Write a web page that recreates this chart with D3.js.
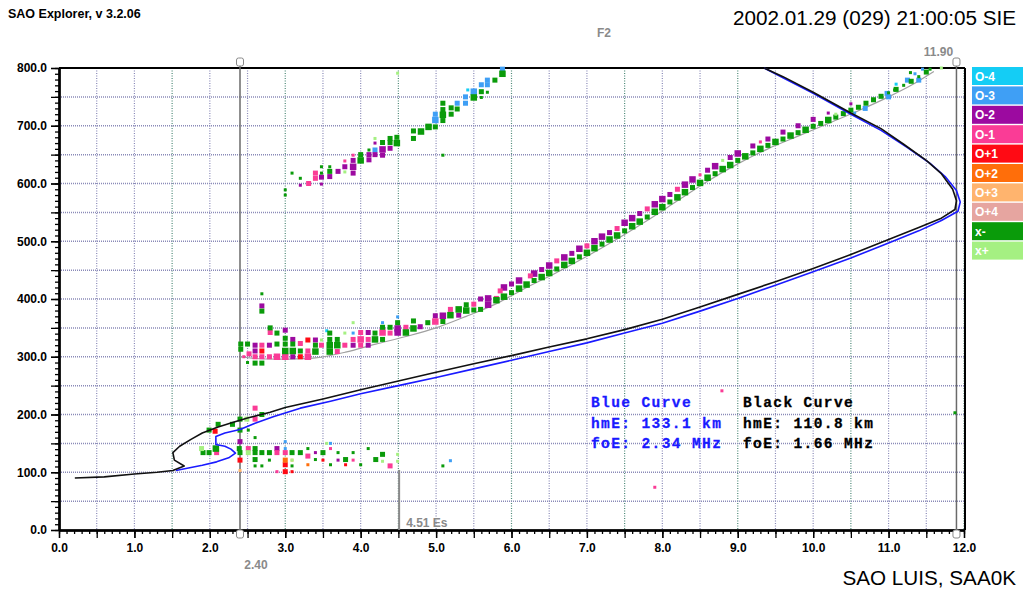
<!DOCTYPE html>
<html><head><meta charset="utf-8">
<script src="https://cdn.jsdelivr.net/npm/d3@7"></script>
<style>
html,body{margin:0;padding:0;background:#fff;}
svg{display:block;font-family:"Liberation Sans",Arial,sans-serif;}
</style></head><body>
<svg id="chart" width="1024" height="590"></svg>
<script>
// ---- axis ticks ----
const freqTicks = [0, 1, 2, 3, 4, 5, 6, 7, 8, 9, 10, 11, 12];
const heightTicks = [0, 100, 200, 300, 400, 500, 600, 700, 800];

// ---- scaled E-layer parameters ----
const blueFoE = 2.34, blueHmE = 133.1;
const blackFoE = 1.66, blackHmE = 110.8;
const foF2 = 11.90;
const fminFreq = 2.40;
const esFreq = 4.51, esTopKm = 104;

// ---- legend (Doppler / polarization classes) ----
const modeNames = ["O-4", "O-3", "O-2", "O-1", "O+1", "O+2", "O+3", "O+4", "x-", "x+"];
const modeColors = ["#14cdf5", "#3f9ff5", "#9c0aa0", "#fa3c96", "#ff0a14", "#ff6e0a", "#ffb46e", "#e6a5a0", "#0a9b0a", "#a5f082"];

// ---- echoes: [frequency MHz, virtual height km, amplitude class] ----
const echoO4 = [[5.42,762,1],[11.1,772,1],[3.55,345,1]];
const echoO3 = [
  [3.90,341,1],[4.29,359,1],[4.49,369,1],
  [4.19,658,2],[4.99,710,3],[4.99,720,2],[5.28,739,2],[5.39,750,2],[5.39,739,2],[5.50,759,3],
  [5.60,771,2],[5.68,779,2],[5.68,771,2],[5.88,798,2],
  [10.55,722,1],[10.69,730,2],[10.8,745,1],[10.98,756,2],[11.0,750,2],[11.25,779,2],[11.35,790,1],[11.4,779,2],[11.45,798,1],
  [3.0,153,1],[3.0,141,1],[5.19,120,1],[3.6,150,1]
];
const echoO2 = [
  [2.60,320,2],[2.60,310,2],[2.79,320,2],[3.0,346,2],[3.10,330,2],[3.10,300,2],[3.40,329,2],[3.90,320,2],
  [4.10,342,2],[4.10,320,2],[4.49,349,3],[4.49,342,3],[4.79,352,2],[4.99,371,2],[5.09,371,3],[5.30,372,2],
  [5.59,400,2],[5.69,401,3],[5.69,390,3],[2.69,388,2],
  [5.9,420,3],[6.0,426,2],[6.1,432,3],[6.3,444,3],[6.4,451,2],[6.5,458,3],[6.7,472,3],[6.8,479,2],[6.9,487,3],
  [7.1,500,3],[7.2,508,3],[7.3,515,2],[7.5,532,3],[7.6,540,3],[7.7,548,2],[7.9,564,3],[8.0,573,3],[8.1,581,2],
  [8.3,598,3],[8.4,607,3],[8.6,623,2],[8.7,630,3],[8.9,645,2],[9.0,652,3],[9.2,665,2],[9.4,677,2],[9.6,689,2],
  [9.8,700,2],[10.0,711,2],[10.2,722,1],[10.5,738,1],
  [3.20,597,1],[3.48,611,2],[3.48,599,1],[3.59,612,2],[3.70,621,2],[3.79,629,2],[3.90,640,2],[3.90,629,3],[3.90,618,2],
  [4.11,650,2],[4.11,641,2],[4.19,670,1],[4.19,650,2],[4.29,659,3],[4.29,649,2],[4.39,661,2],
  [2.40,153,2],[2.89,141,2],[3.4,134,1],[3.7,121,1]
];
const echoO1 = [
  [2.80,342,2],[2.69,320,2],[2.60,300,2],[2.69,300,2],[2.79,300,2],[2.89,300,3],[3.0,300,3],[3.20,323,2],
  [3.30,310,2],[3.30,300,3],[3.48,320,2],[3.69,309,2],[3.79,320,2],[3.90,330,2],[4.0,342,2],[4.0,330,3],
  [4.0,320,2],[4.10,330,2],[4.29,342,3],[4.39,341,2],[4.60,351,2],[4.99,361,3],[5.19,382,2],[5.50,391,2],
  [5.80,401,2],[2.52,305,2],[2.45,300,1],
  [5.85,414,2],[6.25,440,2],[6.6,466,2],[7.0,492,2],[7.4,522,2],[7.8,556,2],[8.2,590,2],[8.5,615,1],[9.3,672,1],
  [3.31,600,2],[3.40,618,2],[3.40,609,2],[3.79,639,1],[3.90,649,1],
  [2.60,211,2],[2.60,192,2],[2.09,134,2],[2.51,141,2],[2.89,134,2],[2.89,101,1],[3.0,134,2],[4.39,111,2],
  [3.3,128,2],[3.6,141,1],[3.9,121,1],[7.9,74,1],[8.79,241,1]
];
const echoOp1 = [[2.69,310,2],[3.20,300,2],[3.30,329,2],[2.07,171,2],[2.40,121,2],[3.0,113,2],[3.0,101,2],[3.09,101,1],[3.5,121,1],[3.8,113,1]];
const echoOp2 = [[3.0,121,2],[3.3,113,1]];
const echoOp3 = [[3.09,121,1],[2.40,103,1]];
const echoOp4 = [];
const echoXm = [
  [2.69,409,1],[2.69,379,2],[2.80,350,2],[2.60,289,2],[2.69,289,2],[2.89,341,2],[2.89,322,2],[3.0,332,2],
  [3.0,322,2],[3.0,310,3],[3.10,322,2],[3.10,310,3],[3.20,310,2],[3.40,320,2],[3.40,309,3],[3.59,341,2],
  [3.59,330,2],[3.59,320,3],[3.59,309,3],[3.69,330,2],[3.69,320,3],[4.19,341,2],[4.19,330,3],[4.29,351,2],
  [4.29,330,2],[4.39,351,2],[4.49,359,2],[4.60,342,3],[4.70,362,2],[4.70,349,3],[4.89,359,2],[5.09,361,2],
  [5.19,372,3],[5.30,382,3],[5.40,390,2],[5.40,380,3],[5.50,381,2],[5.59,382,2],[2.41,322,2],[2.41,313,2],
  [2.50,322,2],[2.50,290,1],
  [5.8,398,3],[5.9,404,3],[6.0,411,2],[6.1,418,3],[6.2,425,3],[6.3,432,2],[6.4,438,3],[6.5,445,3],[6.6,452,2],
  [6.7,459,3],[6.8,466,3],[6.9,473,2],[7.0,480,3],[7.1,488,3],[7.2,495,2],[7.3,503,3],[7.4,510,3],[7.5,518,2],
  [7.6,526,3],[7.7,534,3],[7.8,542,2],[7.9,551,3],[8.0,559,3],[8.1,568,2],[8.2,576,3],[8.3,585,3],[8.4,593,2],
  [8.5,601,3],[8.6,610,3],[8.7,617,2],[8.8,625,3],[8.9,632,3],[9.0,640,2],[9.1,647,3],[9.2,653,2],[9.3,660,3],
  [9.4,666,2],[9.5,672,3],[9.6,677,2],[9.7,683,3],[9.8,688,2],[9.9,693,3],[10.0,699,2],[10.1,704,2],[10.2,710,3],
  [10.3,715,2],[10.4,721,2],[10.5,727,2],[10.6,732,2],[10.7,739,2],[10.8,745,2],[10.9,751,2],[11.0,757,1],
  [11.1,763,2],[11.2,770,1],[11.3,777,2],[11.4,785,1],[11.5,793,2],[11.55,798,1],[11.29,792,1],[11.08,762,1],
  [3.00,589,1],[3.00,580,1],[3.09,618,1],[3.20,609,1],[3.48,629,1],[3.48,618,1],[3.59,629,1],[3.59,621,2],
  [4.00,650,2],[4.00,640,3],[4.11,658,1],[4.29,671,2],[4.39,678,2],[4.39,671,2],[4.48,680,2],[4.48,670,3],
  [4.70,691,2],[4.70,678,2],[4.80,690,3],[4.90,698,3],[4.99,698,2],[5.09,739,2],[5.09,728,2],[5.09,719,3],
  [5.09,709,2],[5.20,731,2],[5.20,720,2],[5.28,729,2],[5.50,749,3],[5.60,759,2],[5.60,749,1],[5.68,758,1],
  [5.78,779,2],[5.88,790,3],[5.09,649,1],
  [1.99,173,2],[2.11,183,2],[2.30,183,2],[2.40,192,2],[2.69,200,2],[2.40,173,2],[2.51,173,1],[1.91,134,2],
  [1.99,134,2],[2.08,141,3],[2.39,141,2],[2.40,134,2],[2.60,160,1],[2.60,141,2],[2.60,134,2],[2.60,122,2],
  [2.60,111,1],[2.69,134,2],[2.69,111,1],[2.79,134,2],[2.79,121,1],[3.09,134,2],[3.09,111,1],[4.29,131,2],
  [5.09,111,1],[3.2,134,2],[3.3,141,1],[3.4,122,1],[3.5,134,2],[3.6,113,1],[3.7,134,1],[3.8,122,2],[3.9,134,1],
  [4.0,113,1],[4.1,141,1],[4.2,122,2],[11.88,203,1]
];
const echoXp = [
  [3.48,329,1],[3.79,341,1],[3.90,359,1],[3.79,620,1],[4.19,678,1],[4.49,791,1],[8.8,640,1],[10.3,720,1],[11.7,800,1],
  [1.89,141,2],[2.49,192,2],[2.51,134,2],[3.09,121,1],[4.29,119,1],[4.49,131,1],[4.49,119,1],[3.55,150,1]
];

// ---- scaled F2 trace: [MHz, km] ----
const traceF2 = [[2.40,300],[2.6,297],[3.0,296],[3.4,298],[3.8,308],[4.2,322],[4.6,335],[5.0,350],[5.4,370],
  [5.8,392],[6.2,420],[6.6,446],[7.0,474],[7.4,504],[7.8,536],[8.2,570],[8.6,604],[9.0,634],[9.4,660],
  [9.8,682],[10.2,704],[10.6,726],[11.0,750],[11.3,770],[11.6,794]];

// ---- true-height profiles: [plasma frequency MHz, true height km] ----
const blackProfile = [[0.21,90],[0.6,92],[1.0,97],[1.3,100],[1.51,103],[blackFoE,blackHmE],[1.53,121],[1.51,134],
  [1.6,145],[1.75,157],[1.9,168],[2.1,178],[2.3,186],[2.5,194],[2.8,204],[3.0,212],[3.5,227],[4.0,243],
  [4.5,258],[5.0,273],[5.5,288],[6.0,302],[6.5,317],[7.0,331],[7.5,347],[8.0,365],[8.5,386],[9.0,408],
  [9.5,430],[10.0,453],[10.5,477],[11.0,503],[11.4,524],[11.7,540],[11.88,555],[11.9,570],[11.85,590],
  [11.7,617],[11.5,640],[11.2,668],[10.9,695],[10.5,722],[10.0,758],[9.6,785],[9.35,800]];
const blueProfile = [[1.55,103],[1.7,107],[1.9,112],[2.09,118],[2.25,125],[blueFoE,blueHmE],[2.28,140],[2.2,145],
  [2.08,148],[2.08,162],[2.2,168],[2.4,174],[2.6,185],[2.84,196],[3.2,211],[3.6,223],[4.0,236],[4.5,250],
  [5.0,264],[5.5,279],[6.0,294],[6.5,309],[7.0,324],[7.5,341],[8.0,358],[8.5,379],[9.0,401],[9.5,424],
  [10.0,447],[10.5,471],[11.0,497],[11.4,518],[11.7,536],[11.92,552],[11.95,568],[11.9,588],[11.75,612],
  [11.55,635],[11.25,662],[10.9,692],[10.5,720],[10.0,756],[9.6,783],[9.35,800]];

const echoSets = [echoO4, echoO3, echoO2, echoO1, echoOp1, echoOp2, echoOp3, echoOp4, echoXm, echoXp];

// ---------------------------------------------------------------
const svg = d3.select("#chart");
const x = d3.scaleLinear().domain([0, 12]).range([59, 964]);
const y = d3.scaleLinear().domain([0, 800]).range([530, 68]);
const FONT = "'Liberation Sans', Arial, sans-serif";

// grid
const grid = svg.append("g");
d3.range(0.5, 12.01, 0.5).forEach(f => {
  const green = Math.abs(f / 1.5 - Math.round(f / 1.5)) < 1e-6;
  grid.append("line").attr("x1", x(f)).attr("x2", x(f)).attr("y1", y(800)).attr("y2", y(0))
    .attr("stroke", green ? "#4f8a78" : "#8a8ab8").attr("stroke-width", 1.2).attr("stroke-dasharray", "1,1.5");
});
d3.range(50, 800, 50).forEach(h => {
  grid.append("line").attr("x1", x(0)).attr("x2", x(12)).attr("y1", y(h)).attr("y2", y(h))
    .attr("stroke", "#8a8ab8").attr("stroke-width", 1.5).attr("stroke-dasharray", "1,1");
});

// frame
svg.append("line").attr("x1", x(0)).attr("x2", 965).attr("y1", y(800)).attr("y2", y(800)).attr("stroke", "#000").attr("stroke-width", 2);
svg.append("line").attr("x1", 965).attr("x2", 965).attr("y1", y(800)).attr("y2", y(0)).attr("stroke", "#000").attr("stroke-width", 2);

// axes
function axisStyle(g) {
  g.select(".domain").attr("stroke", "#000").attr("stroke-width", 2);
  g.selectAll(".tick line").attr("stroke", "#000").attr("stroke-width", 1.3);
  g.selectAll("text").attr("font-family", FONT).attr("font-size", 12).attr("font-weight", "bold").attr("fill", "#000");
}
const xMinor = svg.append("g").attr("transform", `translate(0,${y(0)})`)
  .call(d3.axisBottom(x).tickValues(d3.range(0, 12.001, 0.1)).tickSize(4).tickSizeOuter(0).tickFormat(""));
axisStyle(xMinor);
const xMid = svg.append("g").attr("transform", `translate(0,${y(0)})`)
  .call(d3.axisBottom(x).tickValues(d3.range(0, 12.001, 0.5)).tickSize(8).tickSizeOuter(0).tickFormat(""));
axisStyle(xMid);
const xAxis = svg.append("g").attr("transform", `translate(0,${y(0)})`)
  .call(d3.axisBottom(x).tickValues(freqTicks).tickSize(8).tickSizeOuter(0).tickPadding(5).tickFormat(d3.format(".1f")));
axisStyle(xAxis);

const yMinor = svg.append("g").attr("transform", `translate(${x(0)},0)`)
  .call(d3.axisLeft(y).tickValues(d3.range(0, 801, 10)).tickSize(4).tickSizeOuter(0).tickFormat(""));
axisStyle(yMinor);
const yMid = svg.append("g").attr("transform", `translate(${x(0)},0)`)
  .call(d3.axisLeft(y).tickValues(d3.range(0, 801, 50)).tickSize(8).tickSizeOuter(0).tickFormat(""));
axisStyle(yMid);
const yAxis = svg.append("g").attr("transform", `translate(${x(0)},0)`)
  .call(d3.axisLeft(y).tickValues(heightTicks).tickSize(8).tickSizeOuter(0).tickPadding(4).tickFormat(d3.format(".1f")));
axisStyle(yAxis);

// fmin / foF2 marker lines
[fminFreq, foF2].forEach(f => {
  svg.append("line").attr("x1", x(f)).attr("x2", x(f)).attr("y1", y(800) - 2).attr("y2", y(0) + 3)
    .attr("stroke", "#6a6a6a").attr("stroke-width", 1.5);
  [y(800) - 6, y(0) + 4].forEach(cy => {
    svg.append("rect").attr("x", x(f) - 3.5).attr("y", cy - 4).attr("width", 7).attr("height", 8).attr("rx", 2)
      .attr("fill", "#fff").attr("stroke", "#8a8a8a").attr("stroke-width", 1);
  });
});
svg.append("text").attr("x", x(fminFreq) + 16).attr("y", 569).attr("text-anchor", "middle")
  .attr("font-family", FONT).attr("font-size", 12).attr("font-weight", "bold").attr("fill", "#8a8a8a").text(fminFreq.toFixed(2));
svg.append("text").attr("x", x(foF2) - 18).attr("y", 56).attr("text-anchor", "middle")
  .attr("font-family", FONT).attr("font-size", 12).attr("font-weight", "bold").attr("fill", "#8a8a8a").text(foF2.toFixed(2));
svg.append("text").attr("x", 604).attr("y", 37).attr("text-anchor", "middle")
  .attr("font-family", FONT).attr("font-size", 12).attr("font-weight", "bold").attr("fill", "#8a8a8a").text("F2");

// sporadic-E marker
svg.append("line").attr("x1", x(esFreq)).attr("x2", x(esFreq)).attr("y1", y(esTopKm)).attr("y2", y(0))
  .attr("stroke", "#8a8a8a").attr("stroke-width", 2);
svg.append("text").attr("x", x(esFreq) + 7).attr("y", 527)
  .attr("font-family", FONT).attr("font-size", 12).attr("font-weight", "bold").attr("fill", "#8a8a8a").text(esFreq.toFixed(2) + " Es");

// scaled trace
const traceLine = d3.line().x(d => x(d[0])).y(d => y(d[1])).curve(d3.curveCatmullRom);
svg.append("path").datum(traceF2).attr("d", traceLine).attr("fill", "none")
  .attr("stroke", "#a0a0a0").attr("stroke-width", 1.2);

// echoes
const side = d3.scaleOrdinal().domain([1, 2, 3]).range([3, 5, 6.5]);
echoSets.forEach((pts, i) => {
  svg.append("g").selectAll("rect").data(pts).join("rect")
    .attr("x", d => x(d[0]) - side(d[2]) / 2).attr("y", d => y(d[1]) - side(d[2]) / 2)
    .attr("width", d => side(d[2])).attr("height", d => side(d[2]))
    .attr("fill", modeColors[i]);
});

// true-height profiles
const prof = d3.line().x(d => x(d[0])).y(d => y(d[1]));
svg.append("path").datum(blueProfile).attr("d", prof).attr("fill", "none").attr("stroke", "#1a1aff")
  .attr("stroke-width", 1.6).attr("stroke-linejoin", "round");
svg.append("path").datum(blackProfile).attr("d", prof).attr("fill", "none").attr("stroke", "#111")
  .attr("stroke-width", 1.6).attr("stroke-linejoin", "round");

// profile parameter boxes
const MONO = "'Liberation Mono', 'Courier New', monospace";
const blueLines = ["Blue Curve", `hmE: ${blueHmE.toFixed(1)} km`, `foE: ${blueFoE.toFixed(2)} MHz`];
const blackLines = ["Black Curve", `hmE: ${blackHmE.toFixed(1)} km`, `foE: ${blackFoE.toFixed(2)} MHz`];
[[blueLines, 591, "#1a1aff"], [blackLines, 743, "#000"]].forEach(([lines, lx, col]) => {
  lines.forEach((t, i) => {
    svg.append("text").attr("x", lx).attr("y", 407 + i * 20.7).attr("font-family", MONO).attr("font-size", 14.5)
      .attr("font-weight", "bold").attr("letter-spacing", 1.4).attr("fill", col)
      .attr("stroke", col).attr("stroke-width", 0.3).text(t);
  });
});

// legend
modeNames.forEach((name, i) => {
  const top = 67 + i * 19.4;
  svg.append("rect").attr("x", 972).attr("y", top).attr("width", 51).attr("height", 18).attr("fill", modeColors[i]);
  svg.append("text").attr("x", 975).attr("y", top + 13.5).attr("font-family", FONT).attr("font-size", 12)
    .attr("font-weight", "bold").attr("fill", "#fff").text(name);
});

// headers
svg.append("text").attr("x", 8).attr("y", 18).attr("font-family", FONT).attr("font-size", 12.5)
  .attr("font-weight", "bold").attr("fill", "#000").text("SAO Explorer, v 3.2.06");
svg.append("text").attr("x", 1016).attr("y", 25).attr("text-anchor", "end").attr("font-family", FONT)
  .attr("font-size", 20.7).attr("fill", "#000").text("2002.01.29 (029) 21:00:05 SIE");
svg.append("text").attr("x", 1016).attr("y", 585).attr("text-anchor", "end").attr("font-family", FONT)
  .attr("font-size", 20.7).attr("fill", "#000").text("SAO LUIS, SAA0K");
</script></body></html>
